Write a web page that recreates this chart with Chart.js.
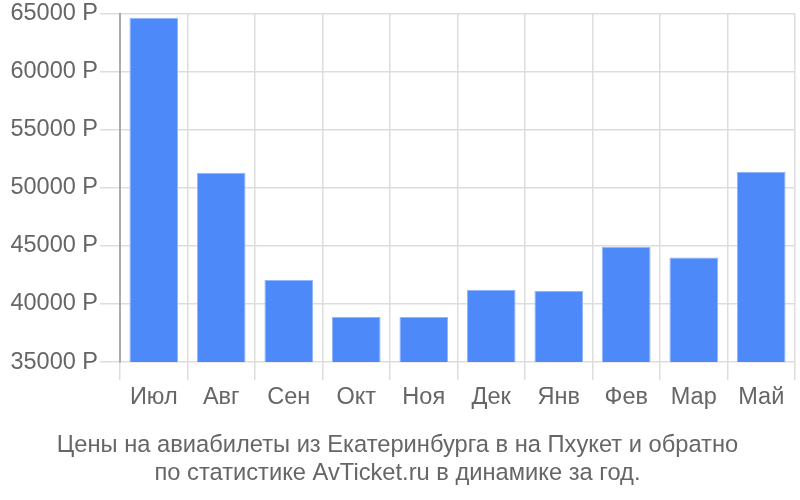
<!DOCTYPE html>
<html><head><meta charset="utf-8">
<script src="https://cdn.jsdelivr.net/npm/chart.js"></script>
<style>html,body{margin:0;padding:0;background:#fff}#wrap{width:800px;height:500px}</style>
</head><body><div id="wrap"><canvas id="c"></canvas></div>
<script>
const categories = ["Июл","Авг","Сен","Окт","Ноя","Дек","Янв","Фев","Мар","Май"];
const prices = [64650, 51300, 42070, 38880, 38880, 41210, 41120, 44930, 44000, 51380];
const yMin = 35000, yMax = 65000, yStep = 5000;
const titleLines = ["Цены на авиабилеты из Екатеринбурга в на Пхукет и обратно","по статистике AvTicket.ru в динамике за год."];

new Chart(document.getElementById('c'), {
  type: 'bar',
  data: { labels: categories, datasets: [{ data: prices, backgroundColor: '#4d89f9', borderColor: '#8fb5fb', borderWidth: {top:1,left:1,right:1,bottom:0}, barPercentage: 0.72, categoryPercentage: 1 }] },
  options: {
    responsive: true, maintainAspectRatio: false, animation: false,
    layout: { padding: { top: 12, right: 5, left: 0, bottom: 0 } },
    plugins: {
      legend: { display: false }, tooltip: { enabled: false },
      title: { display: true, position: 'bottom', text: titleLines, color: '#666', font: { family: 'Liberation Sans', size: 23.7, weight: 'normal', lineHeight: 1.18 }, padding: { top: 10, bottom: 13 } }
    },
    scales: {
      x: {
        grid: { color: '#dddddd', lineWidth: 1.5, tickLength: 18, offset: true },
        border: { display: false },
        ticks: { color: '#666', font: { family: 'Liberation Sans', size: 23.5 }, padding: 3 },
        afterFit: s => { s.height = 59; }
      },
      y: {
        min: yMin, max: yMax,
        grid: { color: '#dddddd', lineWidth: 1.5, tickLength: 20 },
        border: { color: '#aaaaaa', width: 2 },
        ticks: { stepSize: yStep, color: '#666', font: { family: 'Liberation Sans', size: 23.5, lineHeight: 1 }, padding: 2, callback: v => v + ' Р' },
        afterFit: s => { s.width = 120; }
      }
    }
  }
});
</script></body></html>
